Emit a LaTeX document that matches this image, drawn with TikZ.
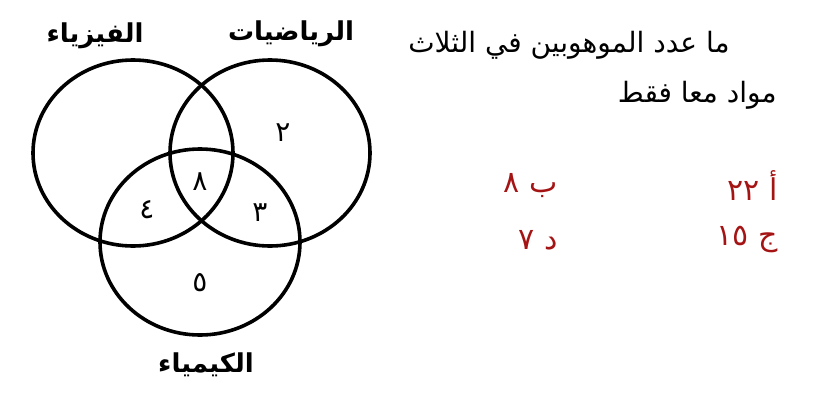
\documentclass[tikz,border=0pt]{standalone}
\usepackage{fontspec}
\usepackage{xcolor}
\usetikzlibrary{calc}
\TeXXeTstate=1
\newfontfamily\arabicfont[Script=Arabic]{DejaVu Sans}
\definecolor{rougefonce}{RGB}{165,20,20}

\begin{document}
\begin{tikzpicture}[x=0.5pt,y=-0.5pt,
		titre/.style={font=\arabicfont\bfseries\fontsize{13}{15}\selectfont},
		nombre/.style={font=\arabicfont\fontsize{14}{16}\selectfont},
		question/.style={font=\arabicfont\fontsize{14}{17}\selectfont,anchor=east,inner sep=0pt},
		reponse/.style={font=\arabicfont\fontsize{15}{17}\selectfont,text=rougefonce,anchor=east,inner sep=0pt}]
		\useasboundingbox (0,0) rectangle (824,407);
		% les trois ensembles
		\foreach \n/\x/\y in{phys/133/153,math/270/153,chim/200/242}{
			\draw[line width=1.8pt](\x,\y) ellipse [x radius=100, y radius=93];
			\coordinate (c\n) at (\x,\y);}
		\node[titre] (lphys) at (95,36) {\beginR الفيزياء\endR};
		\node[titre] (lmath) at (291,34) {\beginR الرياضيات\endR};
		\node[titre] (lchim) at (206,365) {\beginR الكيمياء\endR};
		% effectifs
		\foreach \n/\x/\y/\t in{a/283/133/٢,b/200/182/٨,c/147/210/٤,d/260/213/٣,e/200/283/٥}{
			\node[nombre] (n\n) at (\x,\y) {\t};}
		% la question
		\node[question] (q1) at (730,45) {\beginR ما عدد الموهوبين في الثلاث\endR};
		\node[question] (q2) at (777,95) {\beginR مواد معا فقط\endR};
		\node[reponse] (ra) at (778,186) {\beginR أ \beginL ٢٢\endL\endR};
		\node[reponse] (rb) at (558,186) {\beginR ب \beginL ٨\endL\endR};
		\node[reponse] (rc) at (778,240) {\beginR ج \beginL ١٥\endL\endR};
		\node[reponse] (rd) at (558,240) {\beginR د \beginL ٧\endL\endR};
	\end{tikzpicture}
\end{document}
